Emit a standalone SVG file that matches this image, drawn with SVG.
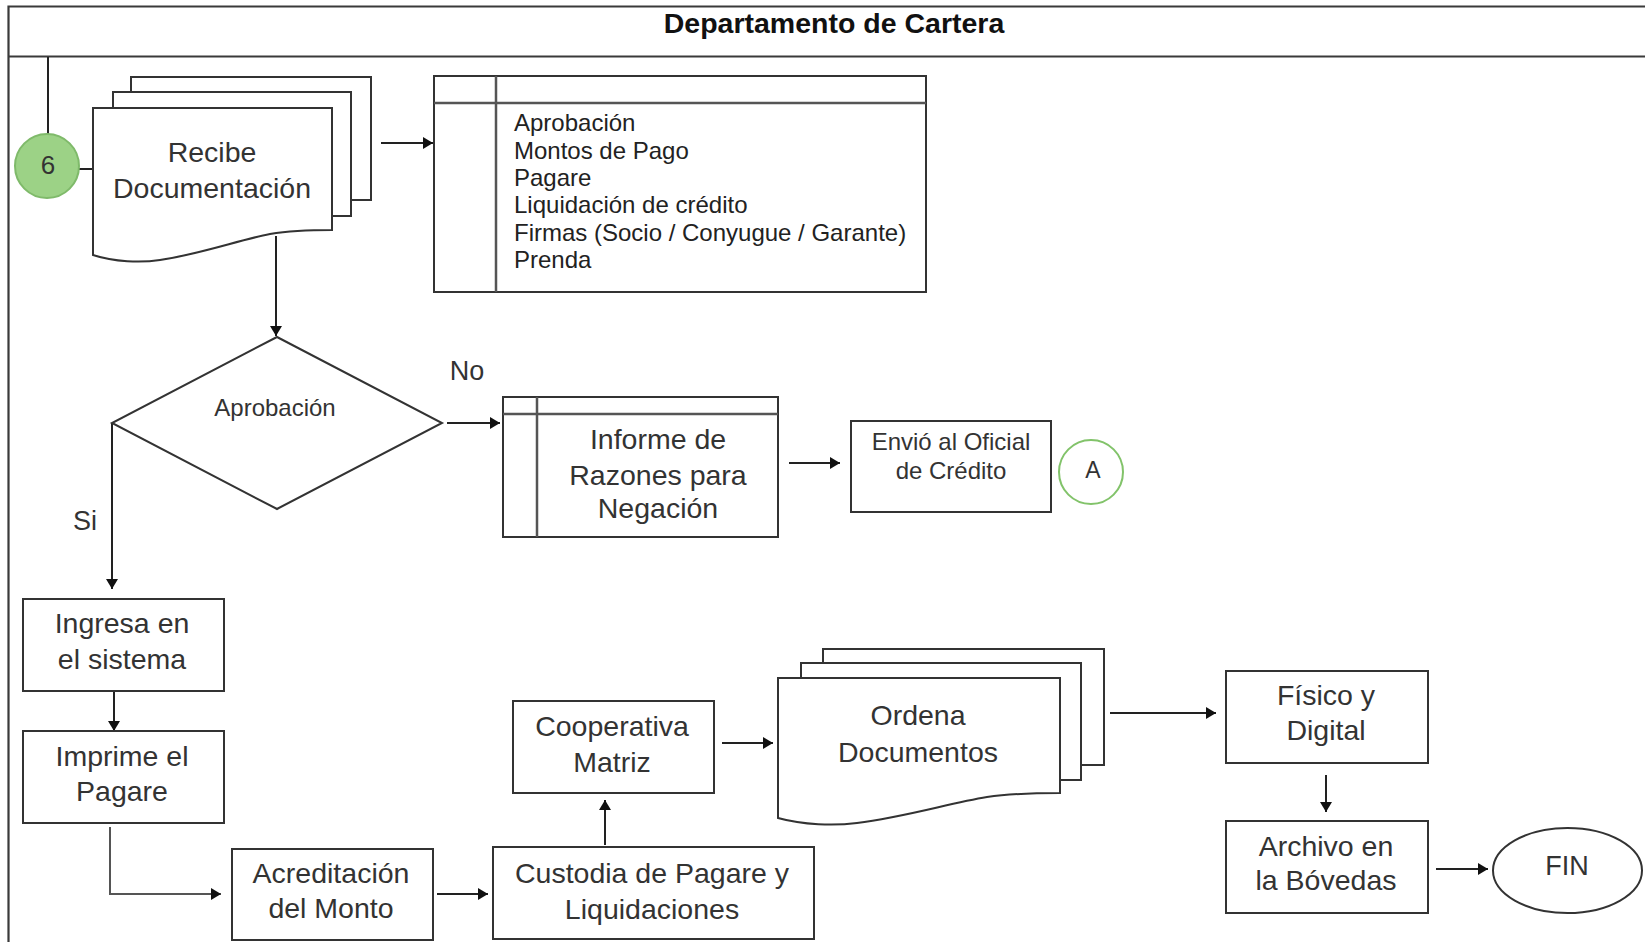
<svg xmlns="http://www.w3.org/2000/svg" width="1645" height="942" viewBox="0 0 1645 942">
  <defs>
    <style>
      .frame { fill: none; stroke: #3a3a3a; stroke-width: 2.2; }
      .box { fill: #ffffff; stroke: #333333; stroke-width: 2; }
      .inner { fill: none; stroke: #555555; stroke-width: 2.5; }
      .conn { fill: none; stroke: #222222; stroke-width: 2; marker-end: url(#arrow); }
      .plain { fill: none; stroke: #222222; stroke-width: 2; }
      .lbl { font-family: "Liberation Sans", Arial, Helvetica, sans-serif; fill: #333333; text-anchor: middle; font-size: 28.5px; }
      .small { font-size: 24px; }
      .list { font-family: "Liberation Sans", Arial, Helvetica, sans-serif; fill: #222222; font-size: 24px; }
      .title { font-family: "Liberation Sans", Arial, Helvetica, sans-serif; font-weight: bold; fill: #111111; font-size: 28.5px; text-anchor: middle; }
    </style>
    <marker id="arrow" viewBox="0 0 10 12" markerUnits="userSpaceOnUse" markerWidth="10" markerHeight="12" refX="10" refY="6" orient="auto">
      <path d="M0,0 L10,6 L0,12 Z" fill="#111111"/>
    </marker>
  </defs>

  <rect x="0" y="0" width="1645" height="942" fill="#ffffff"/>

  <!-- swimlane frame -->
  <g id="lane">
    <path class="frame" d="M1645,6.5 H8.5 V942"/>
    <path class="frame" d="M8.5,56.5 H1645"/>
    <text class="title" x="834" y="33">Departamento de Cartera</text>
  </g>

  <!-- connectors -->
  <g id="connectors">
    <path class="plain" d="M48,57 V134"/>
    <path class="plain" d="M79,169 H93"/>
    <path class="conn" d="M381,143 H433"/>
    <path class="conn" d="M276,236 V336"/>
    <path class="conn" d="M447,423 H500"/>
    <path class="conn" d="M112,423 V589"/>
    <path class="conn" d="M789,463 H840"/>
    <path class="conn" d="M114,691 V731"/>
    <path class="conn" d="M110,827 V894 H221" style="stroke:#555555"/>
    <path class="conn" d="M437,894 H488"/>
    <path class="conn" d="M605,845 V800"/>
    <path class="conn" d="M722,743 H773"/>
    <path class="conn" d="M1110,713 H1216"/>
    <path class="conn" d="M1326,775 V812"/>
    <path class="conn" d="M1436,869 H1488"/>
    <text class="lbl" x="467" y="380" style="font-size:27px">No</text>
    <text class="lbl" x="85" y="530" style="font-size:27px">Si</text>
  </g>

  <!-- off-page connector 6 -->
  <g id="node-6">
    <circle cx="47" cy="166" r="32" fill="#9cd286" stroke="#7fba6a" stroke-width="2"/>
    <text class="lbl" x="48" y="174" style="font-size:26px">6</text>
  </g>

  <!-- multi-document: Recibe Documentación -->
  <g id="node-recibe">
    <rect class="box" x="131" y="77" width="240" height="123"/>
    <rect class="box" x="113" y="92" width="238" height="124"/>
    <path class="box" d="M93,108 H332 V230 C315,230 294,230 270,234 C239,240 201,254 160,260 C141,263 114,262 93,255 Z"/>
    <text class="lbl" x="212" y="162" style="font-size:28.5px">Recibe</text>
    <text class="lbl" x="212" y="198" style="font-size:28.5px">Documentación</text>
  </g>

  <!-- document checklist -->
  <g id="node-lista">
    <rect class="box" x="434" y="76" width="492" height="216"/>
    <path class="inner" d="M434,103 H926 M496,76 V292"/>
    <text class="list" x="514" y="131">Aprobación</text>
    <text class="list" x="514" y="158.5">Montos de Pago</text>
    <text class="list" x="514" y="186">Pagare</text>
    <text class="list" x="514" y="213">Liquidación de crédito</text>
    <text class="list" x="514" y="240.5">Firmas (Socio / Conyugue / Garante)</text>
    <text class="list" x="514" y="268">Prenda</text>
  </g>

  <!-- decision -->
  <g id="node-aprobacion">
    <path class="box" d="M277,337 L442,423 L277,509 L112,423 Z"/>
    <text class="lbl small" x="275" y="416">Aprobación</text>
  </g>

  <g id="node-informe">
    <rect class="box" x="503" y="397" width="275" height="140"/>
    <path class="inner" d="M503,414 H778 M537,397 V537"/>
    <text class="lbl" x="658" y="449">Informe de</text>
    <text class="lbl" x="658" y="485">Razones para</text>
    <text class="lbl" x="658" y="518">Negación</text>
  </g>

  <g id="node-envio">
    <rect class="box" x="851" y="421" width="200" height="91"/>
    <text class="lbl small" x="951" y="450">Envió al Oficial</text>
    <text class="lbl small" x="951" y="479">de Crédito</text>
  </g>

  <g id="node-a">
    <circle cx="1091" cy="472" r="32" fill="#ffffff" stroke="#82c36a" stroke-width="2"/>
    <text class="lbl" x="1093" y="478" style="font-size:23px">A</text>
  </g>

  <g id="node-ingresa">
    <rect class="box" x="23" y="599" width="201" height="92"/>
    <text class="lbl" x="122" y="633">Ingresa en</text>
    <text class="lbl" x="122" y="669">el sistema</text>
  </g>

  <g id="node-imprime">
    <rect class="box" x="23" y="731" width="201" height="92"/>
    <text class="lbl" x="122" y="766">Imprime el</text>
    <text class="lbl" x="122" y="801">Pagare</text>
  </g>

  <g id="node-acreditacion">
    <rect class="box" x="232" y="849" width="201" height="91"/>
    <text class="lbl" x="331" y="883">Acreditación</text>
    <text class="lbl" x="331" y="918">del Monto</text>
  </g>

  <g id="node-custodia">
    <rect class="box" x="493" y="847" width="321" height="92"/>
    <text class="lbl" x="652" y="883">Custodia de Pagare y</text>
    <text class="lbl" x="652" y="919">Liquidaciones</text>
  </g>

  <g id="node-cooperativa">
    <rect class="box" x="513" y="701" width="201" height="92"/>
    <text class="lbl" x="612" y="736">Cooperativa</text>
    <text class="lbl" x="612" y="772">Matriz</text>
  </g>

  <!-- multi-document: Ordena Documentos -->
  <g id="node-ordena">
    <rect class="box" x="823" y="649" width="281" height="116"/>
    <rect class="box" x="801" y="663" width="280" height="117"/>
    <path class="box" d="M778,678 H1060 V793 C1040,793 1015,793 987,797 C950,803 905,817 857,823 C834,826 803,825 778,818 Z"/>
    <text class="lbl" x="918" y="725">Ordena</text>
    <text class="lbl" x="918" y="762">Documentos</text>
  </g>

  <g id="node-fisico">
    <rect class="box" x="1226" y="671" width="202" height="92"/>
    <text class="lbl" x="1326" y="705">Físico y</text>
    <text class="lbl" x="1326" y="740">Digital</text>
  </g>

  <g id="node-archivo">
    <rect class="box" x="1226" y="821" width="202" height="92"/>
    <text class="lbl" x="1326" y="856">Archivo en</text>
    <text class="lbl" x="1326" y="890">la Bóvedas</text>
  </g>

  <g id="node-fin">
    <ellipse class="box" cx="1567.5" cy="870.5" rx="74.5" ry="42.5"/>
    <text class="lbl" x="1567" y="875" style="font-size:27px">FIN</text>
  </g>
</svg>
